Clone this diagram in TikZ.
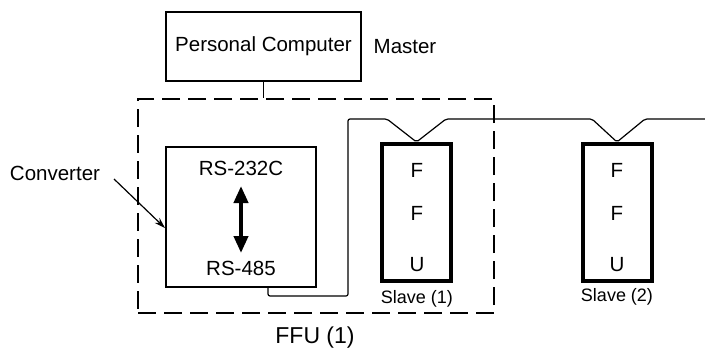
\documentclass[tikz,border=0pt]{standalone}
\usepackage{fontspec}
\setmainfont{Liberation Sans}
\usetikzlibrary{arrows.meta}
\begin{document}
\begin{tikzpicture}[x=1pt,y=-1pt,
  thin line/.style={line width=1.2pt},
  box/.style={draw,thin line,inner sep=0pt},
  slavebox/.style={draw,line width=4pt,inner sep=0pt,minimum width=69,minimum height=137},
  lbl/.style={inner sep=0pt,font=\fontsize{20.5}{24}\selectfont},
  small/.style={inner sep=0pt,font=\fontsize{18}{21}\selectfont},
  dashedbox/.style={draw,thin line,dash pattern=on 18pt off 8pt,inner sep=0pt}]
\useasboundingbox (0,0) rectangle (705,348);
% boxes
\node[box,minimum width=195,minimum height=69,lbl] (pc) at (263.5,46.5) {Personal Computer};
\node[lbl] (master) at (405,47) {Master};
\node[dashedbox,minimum width=356,minimum height=214] (ffu) at (316,206) {};
\node[box,minimum width=150,minimum height=140] (conv) at (241,217) {};
\node[slavebox] (s1) at (416.5,212.5) {};
\node[slavebox] (s2) at (617,212.5) {};
% texts
\node[lbl] (rs232) at (241,168) {RS-232C};
\node[lbl] (rs485) at (241,268) {RS-485};
\node[lbl] (convlbl) at (55,173) {Converter};
\node[lbl] (f1a) at (417,170) {F};
\node[lbl] (f1b) at (417,213) {F};
\node[lbl] (u1) at (417,265) {U};
\node[lbl] (f2a) at (617,170) {F};
\node[lbl] (f2b) at (617,213) {F};
\node[lbl] (u2) at (617,265) {U};
\node[small] (sl1) at (417,299) {Slave (1)};
\node[small] (sl2) at (617,297) {Slave (2)};
\node[lbl,font=\fontsize{23}{27}\selectfont] (ffulbl) at (315,338) {FFU (1)};
% connectors
\draw[thin line] (pc.south) -- (pc.south |- ffu.north);
\draw[line width=4pt,{Triangle[width=14pt,length=17pt]}-{Triangle[width=14pt,length=17pt]}] (rs232.south |- 0,186) coordinate (at) -- (rs485.north |- 0,253) coordinate (ab);
\coordinate (convend) at (conv.south west -| 268,0);
\coordinate (convtip) at (165,228);
\coordinate (convstart) at (114,179);
\draw[thin line,-{Stealth[length=11pt,width=7pt]}] (convstart) -- (convtip);
\coordinate (cend) at (705,119);
\draw[thin line,rounded corners=2pt] (convend) -- (268,296) -- (348,296) -- (348,119) -- (387,119)
  -- (s1.north) -- (446,119) -- (592,119) -- (s2.north) -- (645,119) -- (cend);
\end{tikzpicture}
\end{document}
